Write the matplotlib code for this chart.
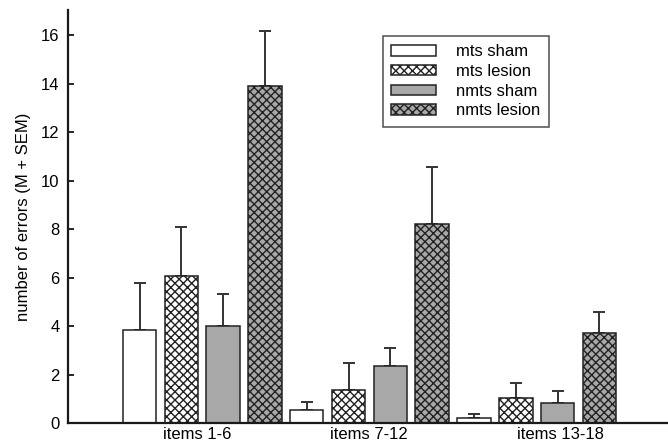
import numpy as np
import matplotlib
matplotlib.use("Agg")
import matplotlib.pyplot as plt

plt.rcParams['font.family'] = ['Liberation Sans', 'DejaVu Sans']
plt.rcParams['hatch.linewidth'] = 1.0

# data (mean, mean + SEM)
groups = ['items 1-6', 'items 7-12', 'items 13-18']
series = ['mts sham', 'mts lesion', 'nmts sham', 'nmts lesion']
means = {
    'mts sham':    [3.85, 0.55, 0.23],
    'mts lesion':  [6.05, 1.39, 1.06],
    'nmts sham':   [4.03, 2.36, 0.85],
    'nmts lesion': [13.88, 8.2, 3.72],
}
tops = {
    'mts sham':    [5.8, 0.86, 0.37],
    'mts lesion':  [8.1, 2.5, 1.66],
    'nmts sham':   [5.33, 3.1, 1.33],
    'nmts lesion': [16.17, 10.56, 4.59],
}
label_pos = [1.39, 5.49, 10.06]

faces = ['white', 'white', '#a8a8a8', '#a8a8a8']
hatches = [None, 'xxxx', None, 'xxxx']

fig = plt.figure(figsize=(6.68, 4.48), dpi=100)
ax = fig.add_axes([0.1018, 0.0551, 0.8982, 0.9226])

for i, s in enumerate(series):
    x = np.arange(len(groups)) * 4 + i
    m = np.array(means[s])
    err = np.array(tops[s]) - m
    ax.bar(x, m, width=0.8, color=faces[i], edgecolor='#222222',
           linewidth=1.1, hatch=hatches[i], label=s, zorder=2)
    ax.errorbar(x, m, yerr=[np.zeros_like(err), err], fmt='none',
                ecolor='#333333', elinewidth=1.4, capsize=4.3,
                capthick=1.4, zorder=1)

ax.set_xlim(-1.71, 12.64)
ax.set_ylim(0, 17.03)
ax.set_yticks(range(0, 17, 2))
ax.set_xticks(label_pos)
ax.set_xticklabels(groups)
ax.tick_params(axis='x', length=0, labelsize=12, pad=3)
ax.tick_params(axis='y', direction='in', length=4, width=1.2,
               labelsize=12, pad=6)
ax.set_ylabel('number of errors (M + SEM)', fontsize=12, labelpad=7)

for side in ['top', 'right']:
    ax.spines[side].set_visible(False)
for side in ['left', 'bottom']:
    ax.spines[side].set_linewidth(1.6)
    ax.spines[side].set_color('#1a1a1a')

leg = ax.legend(loc='upper left', bbox_to_anchor=(0.573, 0.9196),
                bbox_transform=fig.transFigure, borderaxespad=0,
                fontsize=12, frameon=True, fancybox=False,
                handlelength=2.7, handleheight=0.6, labelspacing=0.28,
                handletextpad=1.2, borderpad=0.5)
leg.get_frame().set_edgecolor('#222222')
leg.get_frame().set_linewidth(1.1)

fig.savefig('out.png', dpi=100)
